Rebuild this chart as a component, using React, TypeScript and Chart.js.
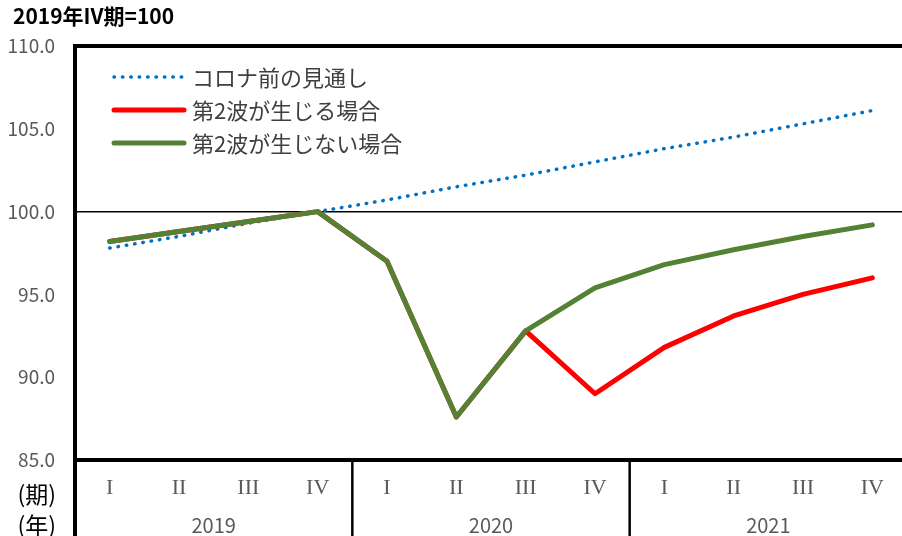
import React, { useEffect, useRef } from "react";
import { Chart, registerables } from "chart.js";

Chart.register(...registerables);

const quarters = ["I", "II", "III", "IV", "I", "II", "III", "IV", "I", "II", "III", "IV"];
const years = ["2019", "2020", "2021"];
const baseline = [97.8, 98.5, 99.3, 100.0, 100.7, 101.5, 102.2, 103.0, 103.8, 104.5, 105.3, 106.1];
const secondWave = [98.2, 98.8, 99.4, 100.0, 97.0, 87.6, 92.8, 89.0, 91.8, 93.7, 95.0, 96.0];
const noSecondWave = [98.2, 98.8, 99.4, 100.0, 97.0, 87.6, 92.8, 95.4, 96.8, 97.7, 98.5, 99.2];
const seriesLabels = ["コロナ前の見通し", "第2波が生じる場合", "第2波が生じない場合"];
const unitLabel = "2019年IV期=100";
const periodLabel = "(期)";
const yearLabel = "(年)";
const yMin = 85;
const yMax = 110;
const yStep = 5;
const refValue = 100;

const JP = '"Noto Sans CJK JP", "Noto Sans", sans-serif';
const GRAY = "#595959";

const decor = {
  id: "decor",
  afterDraw(chart: any) {
    const { ctx, chartArea } = chart;
    const x = chart.scales.x;
    const { left, top, bottom } = chartArea;
    const W = chart.width;
    const H = chart.height;
    ctx.save();
    // frame
    ctx.strokeStyle = "#000";
    ctx.lineWidth = 4;
    ctx.beginPath();
    ctx.moveTo(W + 10, top);
    ctx.lineTo(left, top);
    ctx.lineTo(left, H + 10);
    ctx.moveTo(left, bottom);
    ctx.lineTo(W + 10, bottom);
    ctx.stroke();
    // year separators
    ctx.lineWidth = 2.5;
    const perYear = 4;
    for (let k = 1; k < years.length; k++) {
      const i = k * perYear;
      const sx = (x.getPixelForValue(i - 1) + x.getPixelForValue(i)) / 2;
      ctx.beginPath();
      ctx.moveTo(sx, bottom);
      ctx.lineTo(sx, H + 10);
      ctx.stroke();
    }
    // year labels
    ctx.fillStyle = GRAY;
    ctx.font = `20px ${JP}`;
    ctx.textAlign = "center";
    ctx.textBaseline = "middle";
    years.forEach((yr, k) => {
      const cx = (x.getPixelForValue(k * perYear) + x.getPixelForValue(k * perYear + perYear - 1)) / 2;
      ctx.fillText(yr, cx, 525);
    });
    // (期) (年)
    ctx.fillStyle = "#000";
    ctx.font = `23px ${JP}`;
    ctx.textAlign = "right";
    ctx.fillText(periodLabel, 56, 494);
    ctx.fillText(yearLabel, 56, 525);
    // unit title
    ctx.textAlign = "left";
    ctx.font = `bold 21px ${JP}`;
    ctx.fillText(unitLabel, 13, 16);
    // legend
    const rows = [77, 110, 143];
    chart.data.datasets.forEach((ds: any, i: number) => {
      const y = rows[i];
      ctx.save();
      ctx.strokeStyle = ds.borderColor;
      ctx.lineWidth = ds.borderWidth;
      ctx.lineCap = ds.borderCapStyle || "round";
      ctx.setLineDash(ds.borderDash || []);
      ctx.beginPath();
      ctx.moveTo(114, y);
      ctx.lineTo(184, y);
      ctx.stroke();
      ctx.restore();
      ctx.fillStyle = "#404040";
      ctx.font = `22px ${JP}`;
      ctx.textAlign = "left";
      ctx.textBaseline = "middle";
      ctx.fillText(ds.label, 192, y + 1);
    });
    ctx.restore();
  },
};

export default function App() {
  const ref = useRef<HTMLCanvasElement | null>(null);
  useEffect(() => {
    if (!ref.current) return;
    const chart = new Chart(ref.current, {
      type: "line",
      data: {
        labels: quarters,
        datasets: [
          {
            label: seriesLabels[0],
            data: baseline,
            borderColor: "#0070C0",
            borderWidth: 3.5,
            borderDash: [0.5, 7.9],
            borderCapStyle: "round",
            pointRadius: 0,
            fill: false,
            order: 3,
          },
          {
            label: seriesLabels[1],
            data: secondWave,
            borderColor: "#FF0000",
            borderWidth: 5,
            borderCapStyle: "round",
            borderJoinStyle: "round",
            pointRadius: 0,
            fill: false,
            order: 2,
          },
          {
            label: seriesLabels[2],
            data: noSecondWave,
            borderColor: "#548235",
            borderWidth: 5,
            borderCapStyle: "round",
            borderJoinStyle: "round",
            pointRadius: 0,
            fill: false,
            order: 1,
          },
        ],
      },
      options: {
        animation: false,
        responsive: false,
        devicePixelRatio: 1,
        layout: { padding: { top: 46, right: 13, left: 0, bottom: 0 } },
        plugins: { legend: { display: false }, tooltip: { enabled: false }, title: { display: false } },
        scales: {
          x: {
            type: "category",
            offset: true,
            grid: { display: false, drawTicks: false },
            border: { display: false },
            ticks: {
              color: GRAY,
              font: { family: '"Liberation Serif", serif', size: 22 },
              padding: 15,
              maxRotation: 0,
              autoSkip: false,
            },
            afterFit: (s: any) => {
              s.height = 76;
            },
          },
          y: {
            min: yMin,
            max: yMax,
            grid: {
              color: (c: any) => (c.tick && c.tick.value === refValue ? "#000" : "rgba(0,0,0,0)"),
              lineWidth: 1.5,
              drawTicks: false,
            },
            border: { display: false },
            ticks: {
              stepSize: yStep,
              color: GRAY,
              font: { family: JP, size: 19 },
              padding: 20,
              callback: (v: any) => Number(v).toFixed(1),
            },
            afterFit: (s: any) => {
              s.width = 75;
            },
          },
        },
      },
      plugins: [decor],
    });
    return () => chart.destroy();
  }, []);
  return (
    <div style={{ position: "fixed", left: 0, top: 0, width: 902, height: 536, overflow: "hidden", background: "#fff" }}>
      <canvas ref={ref} width={920} height={536} style={{ display: "block" }} />
    </div>
  );
}
